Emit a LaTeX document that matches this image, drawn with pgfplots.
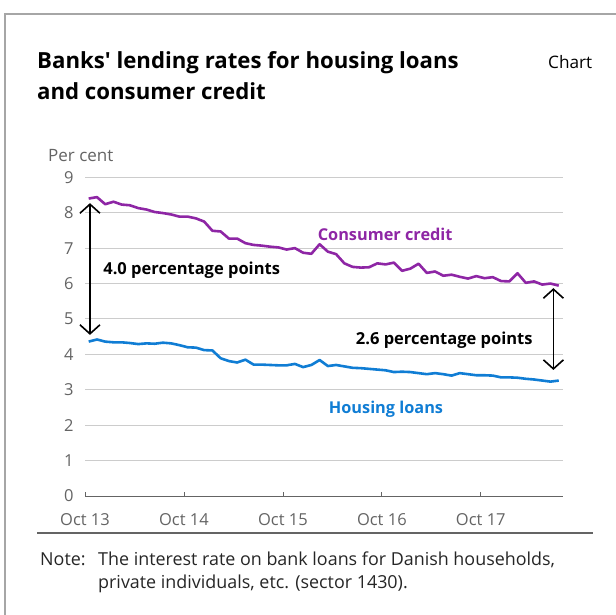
\documentclass[border=0pt]{standalone}
\usepackage{fontspec}
\setmainfont{Open Sans}[Ligatures=TeXOff]
\usepackage{pgfplots}
\usepackage{pgfplotstable}
\pgfplotsset{compat=1.18}
\usetikzlibrary{arrows.meta}
\definecolor{ccred}{RGB}{142,38,165}
\definecolor{hloan}{RGB}{16,125,212}
\definecolor{tickgray}{RGB}{100,100,100}

\pgfplotstableread{
m cc hl
0 8.40 4.36
1 8.44 4.42
2 8.24 4.36
3 8.31 4.34
4 8.23 4.34
5 8.21 4.32
6 8.13 4.29
7 8.09 4.31
8 8.02 4.30
9 7.99 4.33
10 7.95 4.31
11 7.89 4.26
12 7.89 4.20
13 7.84 4.19
14 7.75 4.12
15 7.49 4.11
16 7.47 3.89
17 7.27 3.81
18 7.27 3.77
19 7.14 3.85
20 7.09 3.71
21 7.07 3.71
22 7.04 3.70
23 7.02 3.69
24 6.96 3.69
25 7.00 3.73
26 6.87 3.64
27 6.84 3.70
28 7.11 3.84
29 6.90 3.67
30 6.83 3.70
31 6.57 3.66
32 6.47 3.62
33 6.45 3.61
34 6.46 3.59
35 6.57 3.57
36 6.54 3.55
37 6.59 3.50
38 6.36 3.51
39 6.42 3.50
40 6.56 3.47
41 6.30 3.44
42 6.34 3.47
43 6.22 3.44
44 6.25 3.40
45 6.19 3.47
46 6.14 3.44
47 6.21 3.41
48 6.15 3.41
49 6.18 3.40
50 6.07 3.35
51 6.06 3.35
52 6.29 3.34
53 6.02 3.31
54 6.06 3.29
55 5.97 3.26
56 6.00 3.23
57 5.94 3.26
}\ratesdata

\begin{document}
\begin{tikzpicture}[x=1pt,y=1pt]
\path[use as bounding box] (0pt,0pt) rectangle (616pt,-615pt);
\draw[black!35, line width=2pt] (616pt,-14pt) -- (5pt,-14pt) -- (5pt,-615pt);

\begin{axis}[
  at={(85pt,-496pt)}, anchor=south west,
  scale only axis, width=478.3pt, height=318.7pt,
  xmin=0, xmax=58, ymin=0, ymax=9,
  axis x line*=bottom, axis y line*=left,
  y axis line style={draw=none},
  x axis line style={draw=tickgray, line width=1pt},
  xtick={0,12,24,36,48},
  xticklabels={Oct 13,Oct 14,Oct 15,Oct 16,Oct 17},
  ytick={0,1,...,9},
  xtick align=inside,
  major tick length=4pt,
  xtick style={draw=tickgray, line width=0.8pt},
  ytick style={draw=none},
  ymajorgrids,
  grid style={black!20, line width=0.9pt},
  /pgf/number format/assume math mode=true,
  tick label style={font=\fontsize{16.5}{19}\selectfont, text=tickgray},
  yticklabel style={xshift=-8pt},
  xticklabel style={anchor=base, yshift=-29pt},
  clip=false,
]
\addplot[ccred, line width=2.6pt, line join=round] table[x expr=\thisrow{m}+0.45, y=cc] {\ratesdata};
\addplot[hloan, line width=2.6pt, line join=round] table[x expr=\thisrow{m}+0.45, y=hl] {\ratesdata};

\draw[line width=1.6pt, {Straight Barb[length=9pt,width=20pt]}-{Straight Barb[length=9pt,width=20pt]}] (axis cs:0.6,4.55) -- (axis cs:0.6,8.27);
\draw[line width=1.6pt, {Straight Barb[length=9pt,width=20pt]}-{Straight Barb[length=9pt,width=20pt]}] (axis cs:56.8,3.56) -- (axis cs:56.8,5.87);

\node[font=\bfseries\fontsize{16.3}{19}\selectfont, text=ccred] at (axis cs:36.4,7.4) {Consumer credit};
\node[font=\bfseries\fontsize{16.5}{19}\selectfont, anchor=west, inner sep=0] at (axis cs:2.2,6.38) {4.0 percentage points};
\node[font=\bfseries\fontsize{16.5}{19}\selectfont, anchor=east, inner sep=0] at (axis cs:54.3,4.41) {2.6 percentage points};
\node[font=\bfseries\fontsize{16.3}{19}\selectfont, text=hloan] at (axis cs:36.5,2.46) {Housing loans};
\end{axis}

\node[anchor=base west, inner sep=0, font=\bfseries\fontsize{22.2}{26}\selectfont] at (37pt,-69pt) {Banks' lending rates for housing loans};
\node[anchor=base west, inner sep=0, font=\bfseries\fontsize{22.2}{26}\selectfont] at (37pt,-100pt) {and consumer credit};
\node[anchor=base west, inner sep=0, font=\fontsize{17.2}{20}\selectfont] at (548pt,-69pt) {Chart};
\node[anchor=base west, inner sep=0, font=\fontsize{17}{20}\selectfont, text=tickgray] at (48pt,-161pt) {Per cent};
\draw[tickgray, line width=1.2pt] (37pt,-533pt) -- (593pt,-533pt);
\node[anchor=base west, inner sep=0, font=\fontsize{17.9}{21}\selectfont, text=black!85] at (40pt,-565pt) {Note:};
\node[anchor=base west, inner sep=0, font=\fontsize{17.9}{21}\selectfont, text=black!85] at (98pt,-565pt) {The interest rate on bank loans for Danish households,};
\node[anchor=base west, inner sep=0, font=\fontsize{17.9}{21}\selectfont, text=black!85] at (98pt,-588pt) {private individuals, etc. (sector 1430).};
\end{tikzpicture}
\end{document}
